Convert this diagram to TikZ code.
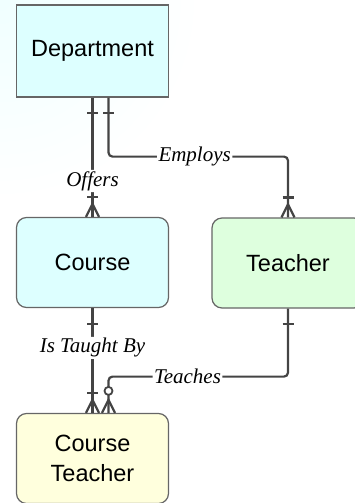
\documentclass[tikz,border=0pt]{standalone}
\usepackage{fontspec}
\setmainfont{Liberation Serif}
\setsansfont{Liberation Sans}
\definecolor{cyanfill}{RGB}{221,255,255}
\definecolor{greenfill}{RGB}{222,255,222}
\definecolor{yellowfill}{RGB}{255,255,221}
\definecolor{linegray}{RGB}{68,68,68}
\begin{document}
\begin{tikzpicture}[x=1pt,y=-1pt,
  ent/.style={draw=black!60, line width=1.2pt, minimum width=152pt, minimum height=90pt, align=center, font=\sffamily\fontsize{23.5}{30}\selectfont},
  rel/.style={draw=linegray, line width=2.2pt, rounded corners=4pt},
  lbl/.style={fill=white, inner sep=1.5pt, font=\itshape\fontsize{21}{24}\selectfont},
  one/.pic={\draw[linegray, line width=2.2pt] (-5.5,0) -- (5.5,0);},
  many/.pic={\draw[linegray, line width=2.2pt] (-6.5,0) -- (0,-13) -- (6.5,0);},
  zero/.pic={\draw[linegray, line width=1.8pt, fill=white] (0,0) circle (4);}]
\useasboundingbox (0,0) rectangle (355,503);
\shade[inner color=cyan!6, outer color=white] (0,0) circle (200);
\node[ent, fill=cyanfill, minimum height=92pt] (dept) at (92.5,51){Department};
\node[ent, fill=cyanfill, rounded corners=10pt] (course) at (92.5,262.5){Course};
\node[ent, fill=greenfill, rounded corners=10pt] (teacher) at (288,263){Teacher};
\node[ent, fill=yellowfill, rounded corners=10pt] (ctch) at (92.5,458.5){Course\\Teacher};
\draw[rel] (dept.south) -- node[lbl, pos=0.7]{Offers} (course.north);
\draw[rel] ([xshift=16pt]dept.south) -- ++(0,59) -| node[lbl, pos=0.24]{Employs} (teacher.north);
\draw[rel] (course.south) -- node[lbl, pos=0.38]{Is Taught By} (ctch.north);
\draw[rel] (teacher.south) -- ++(0,68) -| node[lbl, pos=0.28]{Teaches} ([xshift=16pt]ctch.north);
\pic at ([yshift=-15pt]dept.south) {one};
\pic at ([xshift=16pt,yshift=-15pt]dept.south) {one};
\pic at ([yshift=20pt]course.north) {one};
\pic at (course.north) {many};
\pic at ([yshift=20pt]teacher.north) {one};
\pic at (teacher.north) {many};
\pic at ([yshift=-15pt]teacher.south) {one};
\pic at ([yshift=-16pt]course.south) {one};
\pic at ([yshift=20pt]ctch.north) {one};
\pic at (ctch.north) {many};
\pic at ([xshift=16pt]ctch.north) {many};
\pic at ([xshift=16pt,yshift=22pt]ctch.north) {zero};
\end{tikzpicture}
\end{document}
